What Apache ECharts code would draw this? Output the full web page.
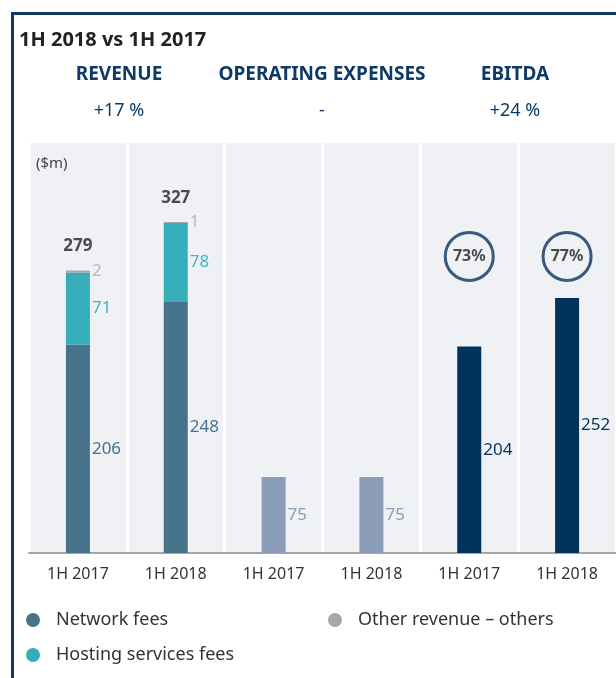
<!DOCTYPE html>
<html>
<head>
<meta charset="utf-8">
<script src="https://cdn.jsdelivr.net/npm/echarts@6/dist/echarts.min.js"></script>
<style>
html,body{margin:0;padding:0;background:#fff;}
#chart{width:616px;height:678px;}
</style>
</head>
<body>
<div id="chart"></div>
<script>
// ---- data ----
var categories = ['1H 2017', '1H 2018', '1H 2017', '1H 2018', '1H 2017', '1H 2018'];
var networkFees = [206, 248, null, null, null, null];
var hostingFees = [71, 78, null, null, null, null];
var otherRevenue = [2, 1, null, null, null, null];
var revenueTotals = [279, 327];
var operatingExpenses = [null, null, 75, 75, null, null];
var ebitda = [null, null, null, null, 204, 252];
var ebitdaMargins = [73, 77];
var headers = ['REVENUE', 'OPERATING EXPENSES', 'EBITDA'];
var changes = ['+17 %', '-', '+24 %'];

var FONT = '"Noto Sans", sans-serif';
var NAVY = '#0d3a66';
var badgeLevel = 293;

var chart = echarts.init(document.getElementById('chart'));

function valueLabel(color) {
  return {show: true, position: 'right', distance: 2, color: color, fontSize: 17, fontFamily: FONT,
    formatter: function (p) { return p.value == null ? '' : p.value; }};
}

var totalsData = revenueTotals.map(function (v, i) { return [i, v]; });
var badgeData = ebitdaMargins.map(function (v, i) { return [4 + i, badgeLevel, v]; });

var headerX = [119, 322, 515];
var graphics = [
  {type: 'rect', shape: {x: 12.5, y: 13.5, width: 800, height: 900}, style: {fill: 'none', stroke: NAVY, lineWidth: 3}, z: 100},
  {type: 'text', x: 19, y: 40, style: {text: '1H 2018 vs 1H 2017', fontSize: 20, fontWeight: 'bold', fill: '#222', fontFamily: FONT, textVerticalAlign: 'middle'}},
  {type: 'text', x: 36, y: 164, style: {text: '($m)', fontSize: 15, fill: '#444', fontFamily: FONT, textVerticalAlign: 'middle'}, z: 10}
];
headers.forEach(function (h, i) {
  graphics.push({type: 'text', x: headerX[i], y: 75, style: {text: h, fontSize: 19, fontWeight: 'bold', fill: NAVY, fontFamily: FONT, textAlign: 'center', textVerticalAlign: 'middle'}});
  graphics.push({type: 'text', x: headerX[i], y: 111, style: {text: changes[i], fontSize: 18, fill: NAVY, fontFamily: FONT, textAlign: 'center', textVerticalAlign: 'middle'}});
});

chart.setOption({
  animation: false,
  backgroundColor: '#fff',
  textStyle: {fontFamily: FONT},
  grid: {left: 29, right: -5, top: 143, bottom: 125, show: true, backgroundColor: '#f0f1f4', borderWidth: 0},
  legend: [
    {data: ['Network fees', 'Hosting services fees'], orient: 'vertical', left: 21, top: 606, icon: 'circle',
      itemWidth: 14, itemHeight: 14, itemGap: 17,
      textStyle: {fontSize: 18, color: '#333', fontFamily: FONT, padding: [0, 0, 0, 11]}},
    {data: ['Other revenue – others'], orient: 'vertical', left: 323, top: 606, icon: 'circle',
      itemWidth: 14, itemHeight: 14,
      textStyle: {fontSize: 18, color: '#333', fontFamily: FONT, padding: [0, 0, 0, 11]}}
  ],
  xAxis: {
    type: 'category', data: categories,
    axisTick: {show: false},
    axisLine: {lineStyle: {color: '#a5a5a5', width: 2}},
    axisLabel: {fontSize: 16, color: '#333', margin: 13, fontFamily: FONT},
    splitLine: {show: true, lineStyle: {color: '#ffffff', width: 3}}
  },
  yAxis: {type: 'value', min: 0, max: 405, show: false, splitLine: {show: false}},
  series: [
    {name: 'Network fees', type: 'bar', stack: 'all', barWidth: 24, data: networkFees,
      itemStyle: {color: '#46738a'}, label: valueLabel('#46738a')},
    {name: 'Hosting services fees', type: 'bar', stack: 'all', data: hostingFees,
      itemStyle: {color: '#35aeba'}, label: valueLabel('#3fb5bf')},
    {name: 'Other revenue – others', type: 'bar', stack: 'all', data: otherRevenue,
      itemStyle: {color: '#a6a7aa'}, label: valueLabel('#b7b8ba')},
    {name: 'Operating expenses', type: 'bar', stack: 'all', data: operatingExpenses,
      itemStyle: {color: '#8a9cb8'}, label: valueLabel('#8a9cb8')},
    {name: 'EBITDA', type: 'bar', stack: 'all', data: ebitda,
      itemStyle: {color: '#01335c'}, label: valueLabel('#01335c')},
    {name: 'Total', type: 'scatter', data: totalsData, symbolSize: 1,
      itemStyle: {color: 'rgba(0,0,0,0)'},
      label: {show: true, position: 'top', distance: 15, fontSize: 17, fontWeight: 'bold', color: '#222', fontFamily: FONT,
        formatter: function (p) { return p.value[1]; }}},
    {name: 'Margin', type: 'scatter', data: badgeData, symbol: 'circle', symbolSize: 48,
      itemStyle: {color: 'rgba(0,0,0,0)', borderColor: '#0a3560', borderWidth: 3},
      label: {show: true, position: 'inside', fontSize: 16, fontWeight: 'bold', color: '#222', fontFamily: FONT,
        formatter: function (p) { return p.value[2] + '%'; }}}
  ],
  graphic: graphics
});
</script>
</body>
</html>
